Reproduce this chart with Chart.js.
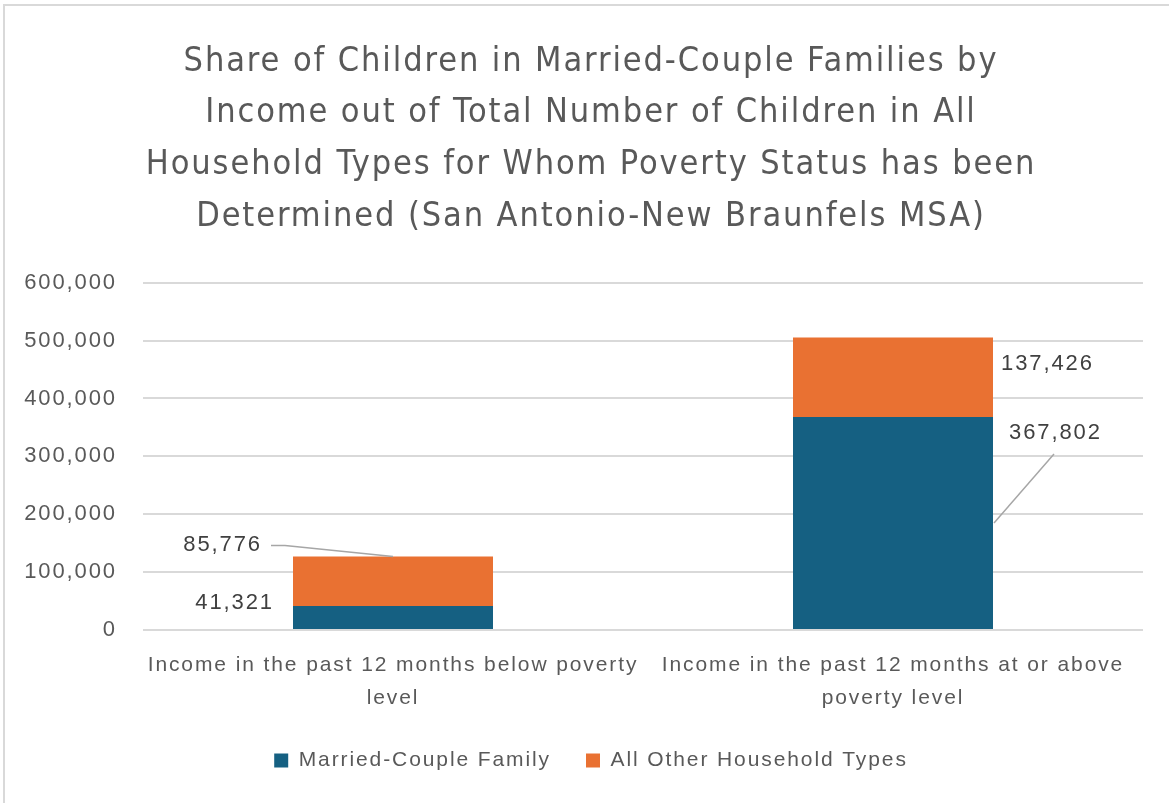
<!DOCTYPE html>
<html>
<head>
<meta charset="utf-8">
<script src="https://cdn.jsdelivr.net/npm/chart.js@4/dist/chart.umd.min.js"></script>
<style>
  html, body { margin: 0; padding: 0; background: #ffffff; }
  #wrap { position: relative; width: 1169px; height: 803px; overflow: hidden; }
  #frame { position: absolute; left: 3px; top: 4px; width: 1200px; height: 900px; border: 2px solid #D9D9D9; box-sizing: border-box; }
  canvas { position: absolute; left: 0; top: 0; }
</style>
</head>
<body>
<div id="wrap">
  <div id="frame"></div>
  <canvas id="c" width="1169" height="803"></canvas>
</div>
<script>
const titleLines = [
  "Share of Children in Married-Couple Families by",
  "Income out of Total Number of Children in All",
  "Household Types for Whom Poverty Status has been",
  "Determined (San Antonio-New Braunfels MSA)"
];
const categories = [
  ["Income in the past 12 months below poverty", "level"],
  ["Income in the past 12 months at or above", "poverty level"]
];
const seriesNames = ["Married-Couple Family", "All Other Household Types"];
const marriedCouple = [41321, 367802];
const allOther = [85776, 137426];
const yTicks = [0, 100000, 200000, 300000, 400000, 500000, 600000];

const BLUE = "#156082";
const ORANGE = "#E97132";
const TEXT = "#595959";
const LABEL = "#404040";
const FONT = "'Liberation Sans', Arial, sans-serif";
const TITLE_FONT = "'DejaVu Sans Condensed', 'Liberation Sans', sans-serif";
const SPACING = "1.9px";

const spacingPlugin = {
  id: "spacing",
  beforeUpdate(chart) { chart.ctx.letterSpacing = SPACING; },
  beforeLayout(chart) { chart.ctx.letterSpacing = SPACING; },
  beforeDraw(chart) { chart.ctx.letterSpacing = SPACING; }
};

const dataLabels = {
  id: "dataLabels",
  afterDatasetsDraw(chart) {
    const ctx = chart.ctx;
    ctx.save();
    ctx.letterSpacing = SPACING;
    ctx.font = "22px " + FONT;
    ctx.fillStyle = LABEL;
    ctx.textBaseline = "middle";
    ctx.strokeStyle = "#A6A6A6";
    ctx.lineWidth = 1.5;
    chart.data.datasets.forEach((ds, di) => {
      const meta = chart.getDatasetMeta(di);
      meta.data.forEach((bar, i) => {
        const txt = ds.data[i].toLocaleString("en-US");
        const left = bar.x - bar.width / 2;
        const right = bar.x + bar.width / 2;
        const top = Math.min(bar.y, bar.base);
        const bottom = Math.max(bar.y, bar.base);
        const mid = (top + bottom) / 2;
        if (di === 0 && i === 0) {
          ctx.textAlign = "right";
          ctx.fillText(txt, left - 19, mid - 15);
        } else if (di === 1 && i === 0) {
          const ty = top - 11;
          ctx.textAlign = "right";
          ctx.fillText(txt, left - 31, ty);
          ctx.beginPath();
          ctx.moveTo(left - 22, ty);
          ctx.lineTo(left - 8, ty);
          ctx.lineTo(bar.x, top);
          ctx.stroke();
        } else if (di === 1 && i === 1) {
          ctx.textAlign = "left";
          ctx.fillText(txt, right + 8, mid - 13);
        } else if (di === 0 && i === 1) {
          const ty = top + 16;
          ctx.textAlign = "left";
          ctx.fillText(txt, right + 16, ty);
          ctx.beginPath();
          ctx.moveTo(right + 61, ty + 21);
          ctx.lineTo(right + 1, ty + 90);
          ctx.stroke();
        }
      });
    });
    ctx.restore();
  }
};

new Chart(document.getElementById("c"), {
  type: "bar",
  data: {
    labels: categories,
    datasets: [
      { label: seriesNames[0], data: marriedCouple, backgroundColor: BLUE, borderWidth: 0 },
      { label: seriesNames[1], data: allOther, backgroundColor: ORANGE, borderWidth: 0 }
    ]
  },
  options: {
    responsive: false,
    animation: false,
    devicePixelRatio: 1,
    layout: { padding: { top: 8, left: 23, right: 10, bottom: 22 } },
    datasets: { bar: { barPercentage: 0.4, categoryPercentage: 1.0 } },
    scales: {
      x: {
        stacked: true,
        grid: { display: false, drawTicks: false },
        border: { display: false },
        afterFit(scale) { scale.height = 85; },
        ticks: { color: TEXT, font: { family: FONT, size: 21, lineHeight: 1.55 }, padding: 19, maxRotation: 0, autoSkip: false }
      },
      y: {
        stacked: true,
        min: 0,
        max: 600000,
        afterBuildTicks(scale) { scale.ticks = yTicks.map(v => ({ value: v })); },
        afterFit(scale) { scale.width = 120; },
        grid: { color: "#D9D9D9", lineWidth: 2, drawTicks: false },
        border: { display: false },
        ticks: {
          color: TEXT,
          font: { family: FONT, size: 22 },
          padding: 26,
          callback: v => v.toLocaleString("en-US")
        }
      },
      yRight: {
        position: "right",
        display: true,
        grid: { display: false, drawTicks: false },
        border: { display: false },
        ticks: { display: false },
        afterFit(scale) { scale.width = 16; }
      }
    },
    plugins: {
      title: {
        display: true,
        text: titleLines,
        color: TEXT,
        font: { family: TITLE_FONT, size: 34, weight: "normal", lineHeight: 1.52 },
        padding: { top: 28, bottom: 40 }
      },
      legend: {
        position: "bottom",
        labels: {
          color: TEXT,
          font: { family: FONT, size: 21 },
          boxWidth: 14,
          boxHeight: 14,
          padding: 35
        }
      },
      tooltip: { enabled: false }
    }
  },
  plugins: [spacingPlugin, dataLabels]
});
</script>
</body>
</html>
